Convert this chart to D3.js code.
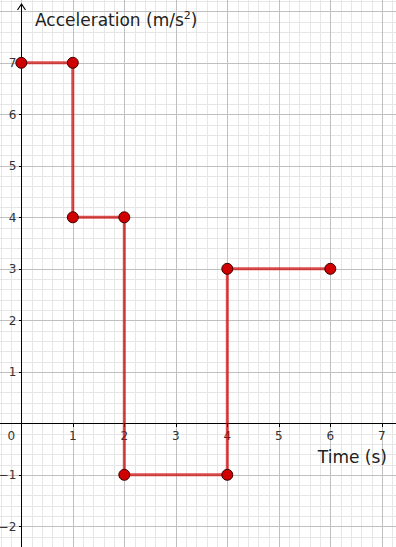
<!DOCTYPE html>
<html>
<head>
<meta charset="utf-8">
<script src="https://cdn.jsdelivr.net/npm/d3@7.9.0/dist/d3.min.js"></script>
<style>
  html, body { margin: 0; padding: 0; background: #fff; }
  svg { display: block; }
</style>
</head>
<body>
<div id="chart"></div>
<script>
// Step data: time (s) and acceleration (m/s^2)
const times = [0, 1, 1, 2, 2, 4, 4, 6];
const accels = [7, 7, 4, 4, -1, -1, 3, 3];

// tick labels
const xTicks = [1, 2, 3, 4, 5, 6, 7];
const yTicks = [-2, -1, 1, 2, 3, 4, 5, 6, 7];

const width = 396, height = 547;
const unit = 51.5;
const originX = 21.3, originY = 423.3;

const x = d3.scaleLinear()
  .domain([-originX / unit, (width - originX) / unit])
  .range([0, width]);
const y = d3.scaleLinear()
  .domain([-(height - originY) / unit, originY / unit])
  .range([height, 0]);

const svg = d3.select('#chart').append('svg')
  .attr('width', width)
  .attr('height', height);

// grid: minor every 0.2, major every 1
const minorX = d3.range(Math.ceil(x.domain()[0] * 5), Math.floor(x.domain()[1] * 5) + 1).map(d => d / 5);
const minorY = d3.range(Math.ceil(y.domain()[0] * 5), Math.floor(y.domain()[1] * 5) + 1).map(d => d / 5);

const grid = svg.append('g').attr('shape-rendering', 'crispEdges');
grid.selectAll('.mx').data(minorX).enter().append('line')
  .attr('x1', d => Math.round(x(d)) + 0.5).attr('x2', d => Math.round(x(d)) + 0.5)
  .attr('y1', 0).attr('y2', height)
  .attr('stroke', '#e6e6e6').attr('stroke-width', 1);
grid.selectAll('.my').data(minorY).enter().append('line')
  .attr('y1', d => Math.round(y(d)) + 0.5).attr('y2', d => Math.round(y(d)) + 0.5)
  .attr('x1', 0).attr('x2', width)
  .attr('stroke', '#e6e6e6').attr('stroke-width', 1);

const majorX = minorX.filter(d => Math.abs(d - Math.round(d)) < 1e-9);
const majorY = minorY.filter(d => Math.abs(d - Math.round(d)) < 1e-9);
grid.selectAll('.Mx').data(majorX).enter().append('line')
  .attr('x1', d => Math.round(x(d)) + 0.5).attr('x2', d => Math.round(x(d)) + 0.5)
  .attr('y1', 0).attr('y2', height)
  .attr('stroke', '#c0c0c0').attr('stroke-width', 1);
grid.selectAll('.My').data(majorY).enter().append('line')
  .attr('y1', d => Math.round(y(d)) + 0.5).attr('y2', d => Math.round(y(d)) + 0.5)
  .attr('x1', 0).attr('x2', width)
  .attr('stroke', '#c0c0c0').attr('stroke-width', 1);

// axes
const ax = svg.append('g').attr('shape-rendering', 'crispEdges');
const x0 = Math.round(x(0)) + 0.5, y0 = Math.round(y(0)) + 0.5;
ax.append('line').attr('x1', 0).attr('x2', width).attr('y1', y0).attr('y2', y0)
  .attr('stroke', '#000').attr('stroke-width', 1.3);
ax.append('line').attr('x1', x0).attr('x2', x0).attr('y1', 4).attr('y2', height)
  .attr('stroke', '#000').attr('stroke-width', 1.3);
svg.append('path')
  .attr('d', `M${x0 - 4},${10} L${x0},${4} L${x0 + 4},${10}`)
  .attr('fill', 'none').attr('stroke', '#000').attr('stroke-width', 1.2);

// y tick marks
ax.selectAll('.yt').data(yTicks).enter().append('line')
  .attr('x1', x0 - 3).attr('x2', x0)
  .attr('y1', d => Math.round(y(d)) + 0.5).attr('y2', d => Math.round(y(d)) + 0.5)
  .attr('stroke', '#000');
ax.selectAll('.xt').data(xTicks).enter().append('line')
  .attr('y1', y0).attr('y2', y0 + 3)
  .attr('x1', d => Math.round(x(d)) + 0.5).attr('x2', d => Math.round(x(d)) + 0.5)
  .attr('stroke', '#000');

const fmt = d => d < 0 ? '\u2212' + Math.abs(d) : String(d);
const labelFont = '"DejaVu Sans", sans-serif';

svg.selectAll('.xl').data(xTicks).enter().append('text')
  .attr('x', d => x(d)).attr('y', y(0) + 17)
  .attr('text-anchor', 'middle')
  .attr('font-family', labelFont).attr('font-size', 12).attr('fill', '#333')
  .text(fmt);
svg.selectAll('.yl').data(yTicks).enter().append('text')
  .attr('x', x(0) - 5).attr('y', d => y(d) + 4.5)
  .attr('text-anchor', 'end')
  .attr('font-family', labelFont).attr('font-size', 12).attr('fill', '#333')
  .text(fmt);
svg.append('text')
  .attr('x', x(0) - 10).attr('y', y(0) + 17)
  .attr('text-anchor', 'middle')
  .attr('font-family', labelFont).attr('font-size', 12).attr('fill', '#333')
  .text('0');

// axis titles
const yTitle = svg.append('text')
  .attr('x', 35).attr('y', 26)
  .attr('font-family', labelFont).attr('font-size', 17).attr('fill', '#222');
yTitle.append('tspan').text('Acceleration (m/s');
yTitle.append('tspan').attr('font-size', 11).attr('dy', -7).text('2');
yTitle.append('tspan').attr('dy', 7).text(')');

svg.append('text')
  .attr('x', 387).attr('y', 463)
  .attr('text-anchor', 'end')
  .attr('font-family', labelFont).attr('font-size', 17).attr('fill', '#222')
  .text('Time (s)');

// step line
const pts = times.map((t, i) => ({ t, a: accels[i] }));
const line = d3.line().x(d => x(d.t)).y(d => y(d.a));
svg.append('path')
  .datum(pts)
  .attr('d', line)
  .attr('fill', 'none')
  .attr('stroke', '#cc0000')
  .attr('stroke-opacity', 0.7)
  .attr('stroke-width', 3);

// points
svg.selectAll('.pt').data(pts).enter().append('circle')
  .attr('cx', d => x(d.t)).attr('cy', d => y(d.a))
  .attr('r', 5.5)
  .attr('fill', '#d00000')
  .attr('stroke', '#3a0000')
  .attr('stroke-width', 1);
</script>
</body>
</html>
